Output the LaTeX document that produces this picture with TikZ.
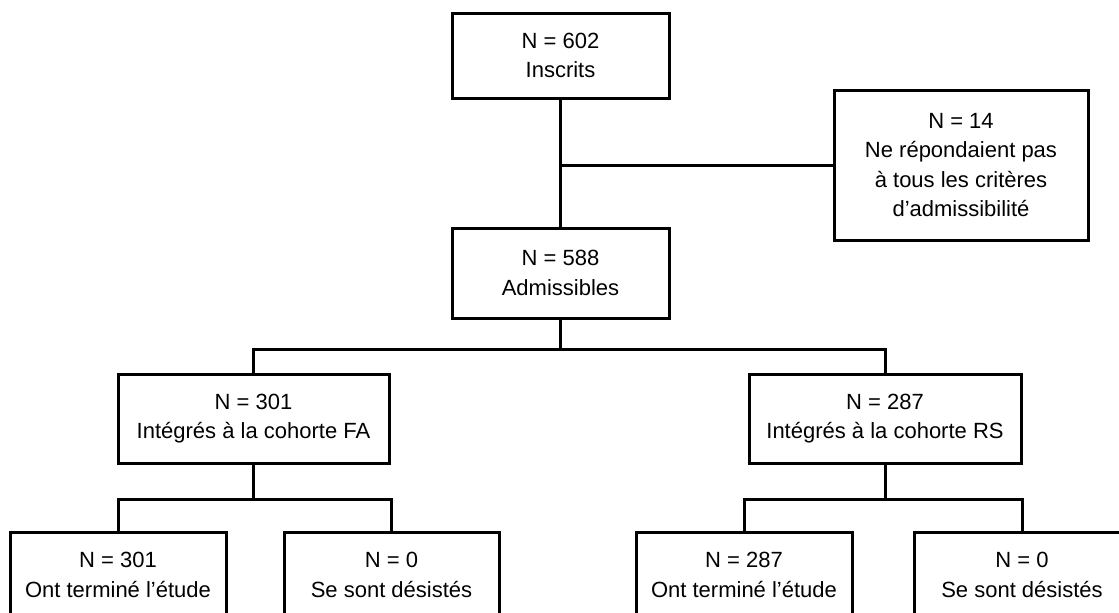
\documentclass[tikz,border=0pt]{standalone}
\usepackage{fontspec}
\setmainfont{Liberation Sans}
\begin{document}
\begin{tikzpicture}[x=1pt,y=-1pt,
  box/.style={draw=black, line width=3pt, fill=white, align=center, inner sep=0pt,
    font=\fontsize{22}{29.5}\selectfont},
  link/.style={draw=black, line width=3pt}]
\path[use as bounding box, clip] (0,0) rectangle (1119,613);
\fill[white] (0,0) rectangle (1119,613);

\node[box, minimum width=217pt, minimum height=85pt] (top) at (560.5,55.5) {N = 602\\Inscrits};
\node[box, minimum width=254pt, minimum height=150pt] (excl) at (961,165) {N = 14\\Ne répondaient pas\\à tous les critères\\d’admissibilité};
\node[box, minimum width=217pt, minimum height=90pt] (mid) at (560.5,273) {N = 588\\Admissibles};
\node[box, minimum width=271pt, minimum height=89pt] (fa) at (253.5,418.5) {N = 301\\Intégrés à la cohorte FA};
\node[box, minimum width=272pt, minimum height=89pt] (rs) at (885,418.5) {N = 287\\Intégrés à la cohorte RS};
\node[box, minimum width=216pt, minimum height=86pt] (fa1) at (118,575) {N = 301\\Ont terminé l’étude};
\node[box, minimum width=215pt, minimum height=86pt] (fa2) at (391.5,575) {N = 0\\Se sont désistés};
\node[box, minimum width=216pt, minimum height=86pt] (rs1) at (744,575) {N = 287\\Ont terminé l’étude};
\node[box, minimum width=216pt, minimum height=86pt] (rs2) at (1022,575) {N = 0\\Se sont désistés};

\coordinate (j1) at (top.south |- excl.west);
\coordinate (j2) at ([yshift=-30pt]mid.south);
\coordinate (j3) at ([yshift=-35pt]fa.south);
\coordinate (j4) at ([yshift=-35pt]rs.south);

\draw[link] (top.south) -- (mid.north);
\draw[link] (j1) -- (excl.west);
\draw[link] (mid.south) -- (j2);
\draw[link] (fa.north) -- (fa.north |- j2) -- (rs.north |- j2) -- (rs.north);
\draw[link] (fa.south) -- (j3);
\draw[link] (fa1.north) -- (fa1.north |- j3) -- (fa2.north |- j3) -- (fa2.north);
\draw[link] (rs.south) -- (j4);
\draw[link] (rs1.north) -- (rs1.north |- j4) -- (rs2.north |- j4) -- (rs2.north);
\end{tikzpicture}
\end{document}
